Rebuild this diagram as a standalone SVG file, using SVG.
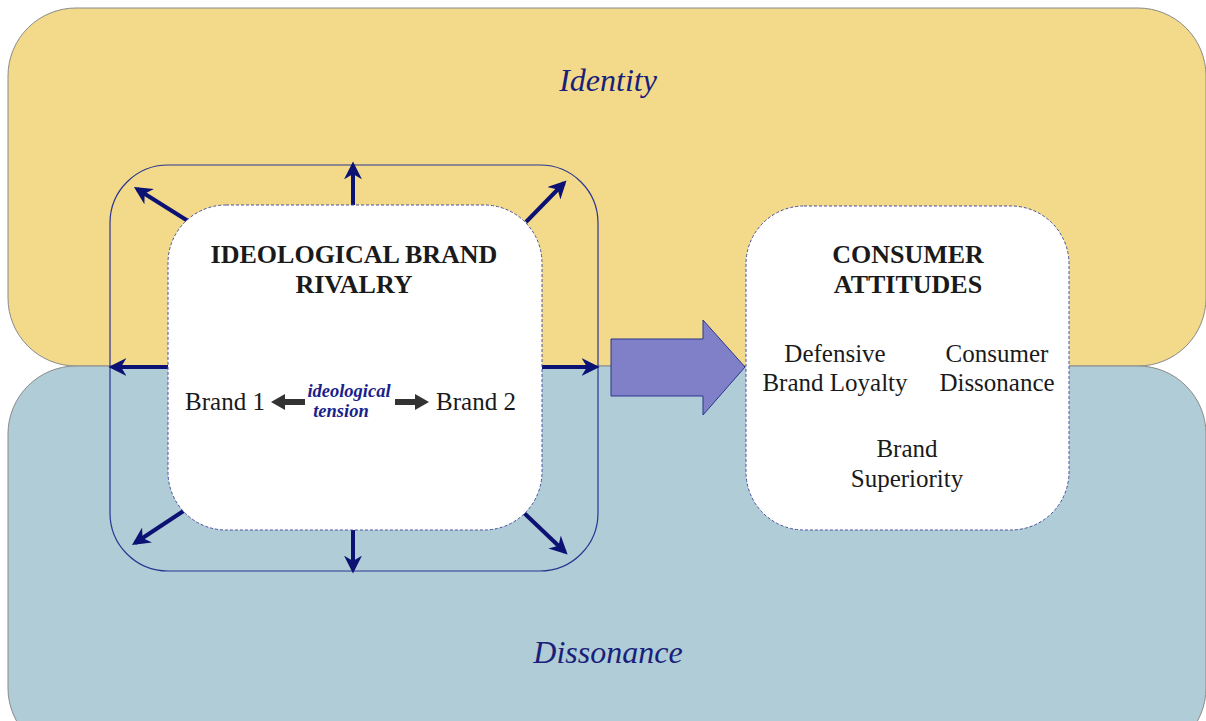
<svg xmlns="http://www.w3.org/2000/svg" width="1206" height="721" viewBox="0 0 1206 721">
<defs>
<marker id="nav" viewBox="0 0 10 10" refX="8" refY="5" markerWidth="4.5" markerHeight="4.5" orient="auto" markerUnits="strokeWidth">
<path d="M0,0 L10,5 L0,10 L3,5 Z" fill="#0c1273"/>
</marker>
<style>
.band{stroke:#8a8a8a;stroke-width:1}
.conn{stroke:#0c1273;stroke-width:4;fill:none;marker-end:url(#nav)}
.card{fill:#fff;stroke:#4a50a0;stroke-width:1;stroke-dasharray:3 2}
.t{font-family:"Liberation Serif",serif;fill:#1a1a1a;text-anchor:middle}
.b{font-weight:bold;font-size:26px}
.r{font-size:25px}
.lab{font-family:"Liberation Serif",serif;font-style:italic;fill:#1a1f7a;text-anchor:middle;font-size:32px}
.ten{font-family:"Liberation Serif",serif;font-style:italic;font-weight:bold;fill:#1a1f8a;text-anchor:middle;font-size:18.5px}
</style>
</defs>
<rect width="1206" height="721" fill="#ffffff"/>
<g id="identity">
<rect class="band" x="8" y="8" width="1198" height="358" rx="68" ry="68" fill="#f3da8b"/>
<text class="lab" x="608" y="91">Identity</text>
</g>
<g id="dissonance">
<rect class="band" x="8" y="366" width="1198" height="390" rx="68" ry="68" fill="#b0ccd6"/>
<text class="lab" x="608" y="663">Dissonance</text>
</g>
<g id="rivalry-frame">
<rect x="110" y="165" width="488" height="406" rx="58" ry="58" fill="none" stroke="#2a3590" stroke-width="1.2"/>
</g>
<g id="connectors">
<line class="conn" x1="353" y1="206" x2="353" y2="165"/>
<line class="conn" x1="188" y1="221" x2="137" y2="189"/>
<line class="conn" x1="526" y1="222" x2="564" y2="183"/>
<line class="conn" x1="168" y1="367" x2="112" y2="367"/>
<line class="conn" x1="542" y1="367" x2="596" y2="367"/>
<line class="conn" x1="185" y1="510" x2="135" y2="543"/>
<line class="conn" x1="353" y1="530" x2="353" y2="570"/>
<line class="conn" x1="522" y1="511" x2="565" y2="552"/>
</g>
<g id="ideological-brand-rivalry">
<rect class="card" x="168" y="205" width="374" height="325" rx="58" ry="58"/>
<text class="t b" x="354" y="263">IDEOLOGICAL BRAND</text>
<text class="t b" x="354" y="293">RIVALRY</text>
<text class="t r" x="225" y="410">Brand 1</text>
<text class="t r" x="476" y="410">Brand 2</text>
<path d="M305,399 L285,399 L285,394 L271,402 L285,410 L285,405 L305,405 Z" fill="#333"/>
<path d="M395,399 L415,399 L415,394 L429,402 L415,410 L415,405 L395,405 Z" fill="#333"/>
<text class="ten" x="349" y="397">ideological</text>
<text class="ten" x="341" y="417">tension</text>
</g>
<g id="flow-arrow">
<path d="M611,339 L703,339 L703,320 L745,367 L703,415 L703,396 L611,396 Z" fill="#8080c8" stroke="#2a3590" stroke-width="1"/>
</g>
<g id="consumer-attitudes">
<rect class="card" x="746" y="206" width="323" height="324" rx="58" ry="58"/>
<text class="t b" x="908" y="263">CONSUMER</text>
<text class="t b" x="908" y="293">ATTITUDES</text>
<text class="t r" x="835" y="362">Defensive</text>
<text class="t r" x="835" y="391">Brand Loyalty</text>
<text class="t r" x="997" y="362">Consumer</text>
<text class="t r" x="997" y="391">Dissonance</text>
<text class="t r" x="907" y="457">Brand</text>
<text class="t r" x="907" y="487">Superiority</text>
</g>
</svg>
